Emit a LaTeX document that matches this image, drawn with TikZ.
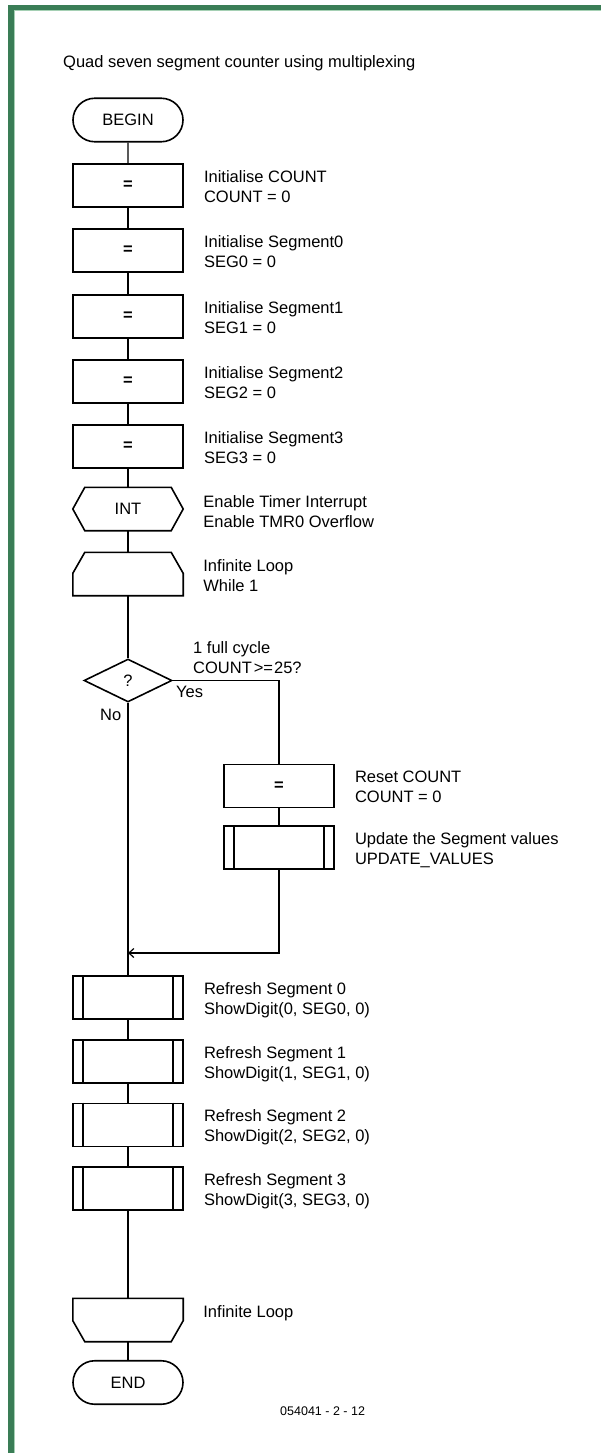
\documentclass[tikz,border=0pt]{standalone}
\usepackage{fontspec}
\setmainfont{Liberation Sans}
\usetikzlibrary{shapes.misc,shapes.geometric,arrows.meta}
\definecolor{framegreen}{RGB}{58,125,86}
\definecolor{framelight}{RGB}{165,208,180}
\begin{document}
\begin{tikzpicture}[x=1pt,y=-1pt,
  font=\fontsize{16.5}{20}\selectfont,
  boxline/.style={line width=1.6pt},
  conn/.style={line width=1.2pt},
  box/.style={draw, boxline, rectangle, minimum width=110pt, minimum height=43pt, inner sep=0pt},
  term/.style={draw, boxline, rounded rectangle, minimum width=110pt, minimum height=43.5pt, inner sep=0pt},
  frameonly/.style={rectangle, minimum width=110pt, minimum height=43pt, inner sep=0pt},
  decision/.style={draw, boxline, diamond, minimum width=88pt, minimum height=43pt, inner sep=0pt},
  desc/.style={anchor=north west, align=left, inner sep=0pt},
  sign/.style={font=\fontsize{16.5}{20}\selectfont\bfseries}
]
\useasboundingbox (0,0) rectangle (601,1453);
% frame
\fill[framegreen] (8,5) rectangle (601,10.5);
\fill[framegreen] (8,5) rectangle (13.5,1453);
\fill[framelight] (13.5,10.5) rectangle (601,11.3);
\fill[framelight] (13.5,10.5) rectangle (14.3,1453);

\node[anchor=base west, inner sep=0pt] (title) at (63,68) {Quad seven segment counter using multiplexing};

% main column
\node[term] (begin) at (128,120) {BEGIN};
\node[box, sign] (c1) at (128,185.5) {=};
\node[box, sign] (c2) at (128,250.5) {=};
\node[box, sign] (c3) at (128,316.5) {=};
\node[box, sign] (c4) at (128,381.5) {=};
\node[box, sign] (c5) at (128,446.5) {=};
\node[frameonly] (int) at (128,509) {INT};
\node[frameonly] (lp) at (128,574) {};
\node[decision] (dec) at (128,680.5) {?};
\node[box, sign] (reset) at (279,786) {=};
\node[box] (sub) at (279,847.5) {};
\coordinate (merge) at (128,953);
\node[box] (r0) at (128,997.5) {};
\node[box] (r1) at (128,1061.5) {};
\node[box] (r2) at (128,1125) {};
\node[box] (r3) at (128,1188.5) {};
\node[frameonly] (le) at (128,1320) {};
\node[term] (end) at (128,1382.5) {END};

% special outlines
\draw[boxline] (int.west) -- ([xshift=12pt]int.north west) -- ([xshift=-12pt]int.north east) -- (int.east) -- ([xshift=-12pt]int.south east) -- ([xshift=12pt]int.south west) -- cycle;
\draw[boxline] ([xshift=12pt]lp.north west) -- ([xshift=-12pt]lp.north east) -- ([yshift=-21pt]lp.north east) -- (lp.south east) -- (lp.south west) -- ([yshift=-21pt]lp.north west) -- cycle;
\draw[boxline] (le.north west) -- (le.north east) -- ([yshift=21pt]le.south east) -- ([xshift=-12pt]le.south east) -- ([xshift=12pt]le.south west) -- ([yshift=21pt]le.south west) -- cycle;
\foreach \s in {sub,r0,r1,r2,r3}{
  \draw[boxline] ([xshift=11pt]\s.north west) -- ([xshift=11pt]\s.south west);
  \draw[boxline] ([xshift=-11pt]\s.north east) -- ([xshift=-11pt]\s.south east);
}

% descriptions
\node[desc] (t1) at ([xshift=20pt,yshift=-5pt]c1.north east) {\strut Initialise COUNT\\COUNT = 0};
\node[desc] (t2) at ([xshift=20pt,yshift=-5pt]c2.north east) {\strut Initialise Segment0\\SEG0 = 0};
\node[desc] (t3) at ([xshift=20pt,yshift=-5pt]c3.north east) {\strut Initialise Segment1\\SEG1 = 0};
\node[desc] (t4) at ([xshift=20pt,yshift=-5pt]c4.north east) {\strut Initialise Segment2\\SEG2 = 0};
\node[desc] (t5) at ([xshift=20pt,yshift=-5pt]c5.north east) {\strut Initialise Segment3\\SEG3 = 0};
\node[desc] (t6) at ([xshift=20pt,yshift=-6pt]int.north east) {\strut Enable Timer Interrupt\\Enable TMR0 Overflow};
\node[desc] (t7) at ([xshift=20pt,yshift=-5pt]lp.north east) {\strut Infinite Loop\\While 1};
\node[desc] (t8) at ([xshift=20pt,yshift=-5pt]reset.north east) {\strut Reset COUNT\\COUNT = 0};
\node[desc] (t9) at ([xshift=20pt,yshift=-5pt]sub.north east) {\strut Update the Segment values\\UPDATE\_VALUES};
\node[desc] (t10) at ([xshift=20pt,yshift=-5pt]r0.north east) {\strut Refresh Segment 0\\ShowDigit(0, SEG0, 0)};
\node[desc] (t11) at ([xshift=20pt,yshift=-5pt]r1.north east) {\strut Refresh Segment 1\\ShowDigit(1, SEG1, 0)};
\node[desc] (t12) at ([xshift=20pt,yshift=-5pt]r2.north east) {\strut Refresh Segment 2\\ShowDigit(2, SEG2, 0)};
\node[desc] (t13) at ([xshift=20pt,yshift=-5pt]r3.north east) {\strut Refresh Segment 3\\ShowDigit(3, SEG3, 0)};
\node[desc] (t14) at ([xshift=20pt,yshift=-5pt]le.north east) {\strut Infinite Loop};
\node[desc] (cond) at (193,639) {\strut 1 full cycle\\COUNT{\kern2pt}>={\kern1pt}25?};
\node[anchor=base west, inner sep=0pt] (yes) at (176,697) {Yes};
\node[anchor=base west, inner sep=0pt] (no) at (100,720) {No};
\node[anchor=base west, inner sep=0pt, font=\fontsize{12.5}{15}\selectfont] (fig) at (280,1415) {054041 - 2 - 12};

% connectors
\draw[conn] (begin) -- (c1);
\draw[conn] (c1) -- (c2);
\draw[conn] (c2) -- (c3);
\draw[conn] (c3) -- (c4);
\draw[conn] (c4) -- (c5);
\draw[conn] (c5.south) -- (int.north);
\draw[conn] (int.south) -- (lp.north);
\draw[conn] (lp.south) -- (dec.north);
\draw[conn] (dec.south) -- (r0.north);
\draw[conn] (dec.east) -| (reset.north);
\draw[conn] (reset) -- (sub);
\draw[conn, -{Straight Barb[length=5pt,width=9pt]}] (sub.south) |- (merge);
\draw[conn] (r0) -- (r1);
\draw[conn] (r1) -- (r2);
\draw[conn] (r2) -- (r3);
\draw[conn] (r3.south) -- (le.north);
\draw[conn] (le.south) -- (end.north);
\end{tikzpicture}
\end{document}
